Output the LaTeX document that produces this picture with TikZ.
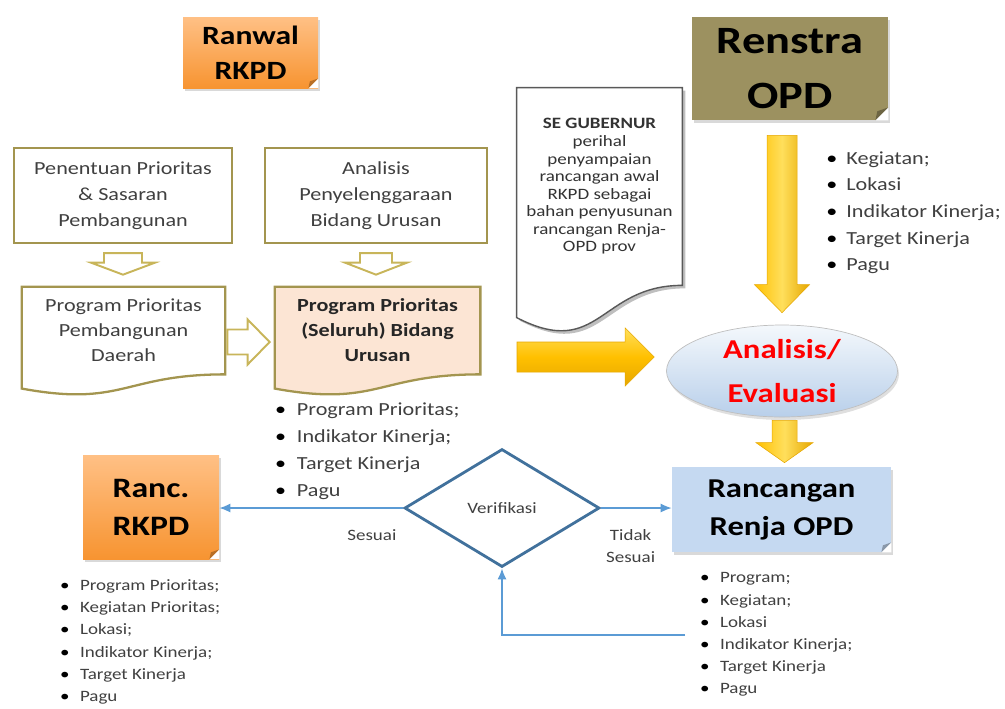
\documentclass[tikz,border=0pt]{standalone}
\usepackage{fontspec}
\setmainfont[FakeStretch=1.2]{Carlito}
\usetikzlibrary{positioning,calc,shapes.geometric,shadows,backgrounds,arrows.meta}

\definecolor{olivebox}{HTML}{9C9160}
\definecolor{boxline}{HTML}{A3954F}
\definecolor{hollowline}{HTML}{C8B55A}
\definecolor{peach}{HTML}{FCE5D4}
\definecolor{renjablue}{HTML}{C5D9F1}
\definecolor{elltop}{HTML}{F4F8FC}
\definecolor{ellbot}{HTML}{B8CFEA}
\definecolor{diaband}{HTML}{41719C}
\definecolor{linkblue}{HTML}{5B9BD5}
\definecolor{txtgray}{HTML}{404040}
\definecolor{orangetop}{HTML}{FFC085}
\definecolor{orangebot}{HTML}{F79431}
\definecolor{yellowA}{HTML}{FFC000}
\definecolor{yellowB}{HTML}{FFDF5C}
\definecolor{yellowC}{HTML}{E6A700}

\newcommand{\fsize}[2]{\fontsize{#1}{#2}\selectfont}
\newcommand{\itm}[2][11.4pt]{\makebox[#1][l]{\textcolor{black}{\textbullet}}#2}
\newcommand{\blkdown}[6]{\path[#1] let \p1=(#2), \p2=(#3) in
  (\x1-#4,\y1) -- (\x1+#4,\y1) -- (\x1+#4,\y2+#6) -- (\x1+#5,\y2+#6) -- (\x1,\y2)
  -- (\x1-#5,\y2+#6) -- (\x1-#4,\y2+#6) -- cycle;}
\newcommand{\blkright}[6]{\path[#1] let \p1=(#2), \p2=(#3) in
  (\x1,\y1+#4) -- (\x2-#6,\y1+#4) -- (\x2-#6,\y1+#5) -- (\x2,\y1)
  -- (\x2-#6,\y1-#5) -- (\x2-#6,\y1-#4) -- (\x1,\y1-#4) -- cycle;}
\newcommand{\docshape}[3]{\path[#1] (#2.north west) -- (#2.north east) -- (#2.south east)
  .. controls (#2.south) and ($(#2.south)+(0,-#3)$) .. ($(#2.south west)+(0,-0.43*#3)$) -- cycle;}
\newcommand{\foldcorner}[3]{%
  \fill[white] (#1.south east) -- ++(-#2,0) -- ++(#2,#2) -- cycle;
  \fill[#3] ($(#1.south east)+(-#2,0)$) -- ($(#1.south east)+(0,#2)$)
    -- ($(#1.south east)+(-0.85*#2,0.7*#2)$) -- cycle;}

\begin{document}
\begin{tikzpicture}[
    box/.style={draw=boxline, line width=1.3pt, fill=white, minimum width=4.36cm,
      minimum height=1.9cm, align=center, text=txtgray, font=\fsize{10.5}{14.8}},
    docnode/.style={minimum width=4.06cm, minimum height=1.74cm, align=center, inner sep=0pt},
    docline/.style={draw=boxline, line width=1.3pt, fill=white},
    note/.style={minimum width=2.7cm, minimum height=1.42cm, align=center, inner sep=0pt,
      drop shadow={opacity=0.3, shadow xshift=0.04cm, shadow yshift=-0.06cm}},
    orangenote/.style={note, top color=orangetop, bottom color=orangebot},
    hollow/.style={draw=hollowline, line width=1.1pt, fill=white},
    yellowdown/.style={left color=yellowA, right color=yellowC, middle color=yellowB,
      draw=yellowC, line width=0.3pt},
    yellowright/.style={top color=yellowB, bottom color=yellowC, middle color=yellowA,
      draw=yellowC, line width=0.3pt},
    link/.style={linkblue, line width=0.8pt, -{Latex[length=2.2mm,width=1.8mm]}},
    lbl/.style={font=\fsize{9}{12.5}, text=txtgray, align=center},
    bullets/.style={anchor=north west, inner sep=0pt, align=left, text=txtgray}
  ]
  \useasboundingbox (0,0) rectangle (20.1,-14.16);

  \node[orangenote, font=\bfseries\fsize{15}{20}] (ranwal) at (5.01,-1.05) {Ranwal\\RKPD};
  \node[note, fill=olivebox, minimum width=3.92cm, minimum height=2.06cm,
    font=\bfseries\fsize{22}{31}] (renstra) at (15.8,-1.37) {Renstra\\OPD};
  \foldcorner{ranwal}{0.2}{orangebot!75!black}
  \foldcorner{renstra}{0.26}{olivebox!70!black}

  \node[box] (penentuan) at (2.46,-3.91) {Penentuan Prioritas\\\& Sasaran\\Pembangunan};
  \node[box, minimum width=4.44cm] (penyelenggaraan) at (7.52,-3.91)
    {Analisis\\Penyelenggaraan\\Bidang Urusan};

  \node[docnode, text=txtgray, font=\fsize{10.5}{14.2}] (progdaerah) at (2.47,-6.61)
    {Program Prioritas\\Pembangunan\\Daerah};
  \node[docnode, minimum width=4.1cm, text=black!85, font=\bfseries\fsize{10.5}{14.2}]
    (progbidang) at (7.55,-6.61) {Program Prioritas\\(Seluruh) Bidang\\Urusan};
  \node[docnode, minimum width=3.3cm, minimum height=3.94cm, text=black!80,
    font=\fsize{9}{10}] (segub) at (11.99,-3.73)
    {\textbf{SE GUBERNUR}\\perihal\\penyampaian\\rancangan awal\\RKPD sebagai\\bahan penyusunan\\rancangan Renja-\\OPD prov};

  \begin{pgfonlayer}{background}
    \docshape{docline}{progdaerah}{0.66}
    \docshape{docline, fill=peach}{progbidang}{0.66}
    \docshape{fill=black!25, transform canvas={shift={(0.06,-0.06)}}}{segub}{1.5}
    \docshape{draw=black!65, line width=0.8pt, fill=white}{segub}{1.5}
  \end{pgfonlayer}

  \blkdown{hollow}{$(penentuan.south)+(0,-0.18)$}{$(penentuan.south |- progdaerah.north)+(0,0.24)$}{0.38cm}{0.64cm}{0.24cm}
  \blkdown{hollow}{$(penyelenggaraan.south)+(0,-0.18)$}{$(penyelenggaraan.south |- progbidang.north)+(0,0.24)$}{0.32cm}{0.62cm}{0.24cm}
  \blkright{hollow}{$(progdaerah.east)+(0.04,-0.23)$}{$(progbidang.west)+(-0.1,-0.23)$}{0.25cm}{0.45cm}{0.44cm}

  \node[bullets, font=\fsize{10.5}{15.4}] (listbidang) at ($(progbidang.south west)+(0,-0.56)$)
    {\itm[12.5pt]{Program Prioritas;}\\\itm[12.5pt]{Indikator Kinerja;}\\\itm[12.5pt]{Target Kinerja}\\\itm[12.5pt]{Pagu}};

  \node[ellipse, draw=black!25, top color=elltop, bottom color=ellbot, align=center,
    minimum width=4.62cm, minimum height=1.84cm, inner sep=0pt, text=red,
    font=\bfseries\fsize{15.5}{25},
    drop shadow={opacity=0.25, shadow xshift=0.03cm, shadow yshift=-0.06cm}]
    (evaluasi) at (15.64,-7.42) {Analisis/\\Evaluasi};

  \blkdown{yellowdown}{$(evaluasi.north |- renstra.south)+(0,-0.3)$}{$(evaluasi.north)+(0,0.24)$}{0.3cm}{0.55cm}{0.56cm}
  \node[bullets, font=\fsize{10.5}{15.2}] (listrenstra) at (16.52,-3.02)
    {\itm{Kegiatan;}\\\itm{Lokasi}\\\itm{Indikator Kinerja;}\\\itm{Target Kinerja}\\\itm{Pagu}};

  \coordinate (yarr) at (10.34,-7.14);
  \blkright{yellowright}{yarr}{$(yarr -| evaluasi.west)+(-0.24,0)$}{0.3cm}{0.58cm}{0.58cm}

  \node[note, fill=renjablue, minimum width=4.38cm, minimum height=1.7cm,
    font=\bfseries\fsize{15.5}{21.6}] (renja) at (15.63,-10.19) {Rancangan\\Renja OPD};
  \foldcorner{renja}{0.2}{renjablue!70!black}
  \blkdown{yellowdown}{$(evaluasi.south)+(0.05,-0.06)$}{$(evaluasi.south |- renja.north)+(0.05,0.08)$}{0.25cm}{0.57cm}{0.4cm}

  \node[orangenote, minimum width=2.72cm, minimum height=2.08cm,
    font=\bfseries\fsize{16}{21.6}] (ranc) at (3.02,-10.14) {Ranc.\\RKPD};
  \foldcorner{ranc}{0.2}{orangebot!75!black}

  \node[diamond, draw=diaband, line width=1.6pt, minimum width=3.9cm, minimum height=2.36cm,
    inner sep=0pt, font=\fsize{9}{12}, text=txtgray] (verif) at (10.04,-10.16) {Verifikasi};

  \draw[link] (verif.west) -- (verif.west -| ranc.east)
    node[lbl, pos=0.17, yshift=-0.54cm] {Sesuai};
  \draw[link] (verif.east) -- (verif.east -| renja.west)
    node[lbl, pos=0.42, yshift=-0.76cm] {Tidak\\Sesuai};
  \coordinate (fb) at (13.7,-12.7);
  \draw[link] (fb) -| (verif.south);

  \node[bullets, font=\fsize{9}{12.6}] (listranc) at ($(ranc.south west)+(-0.46,-0.4)$)
    {\itm{Program Prioritas;}\\\itm{Kegiatan Prioritas;}\\\itm{Lokasi;}\\\itm{Indikator Kinerja;}\\\itm{Target Kinerja}\\\itm{Pagu}};
  \node[bullets, font=\fsize{9}{12.6}] (listrenja) at ($(renja.south west)+(0.56,-0.4)$)
    {\itm{Program;}\\\itm{Kegiatan;}\\\itm{Lokasi}\\\itm{Indikator Kinerja;}\\\itm{Target Kinerja}\\\itm{Pagu}};
\end{tikzpicture}
\end{document}
